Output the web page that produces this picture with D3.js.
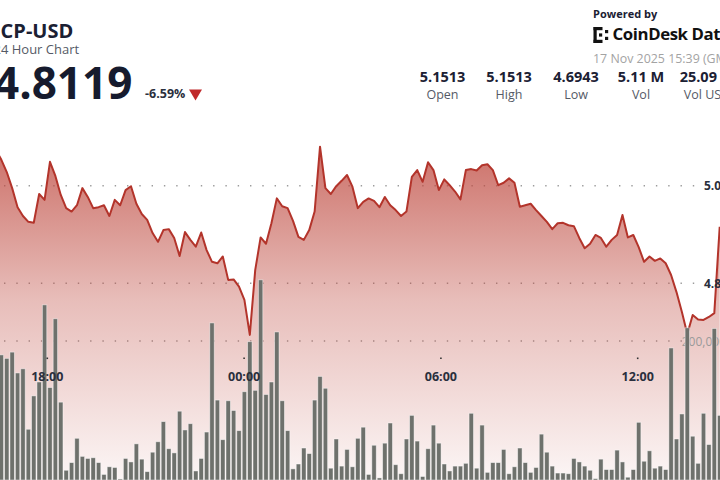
<!DOCTYPE html>
<html><head><meta charset="utf-8">
<script src="https://cdn.jsdelivr.net/npm/d3@7"></script>
<style>
body{margin:0;background:#fff;overflow:hidden}
svg{display:block;font-family:"Open Sans",sans-serif}
</style>
</head><body>
<svg id="c" width="720" height="480"></svg>
<script>
// ---- data ----
const prices = [
 5.073, 5.053, 5.028, 4.995, 4.956, 4.938, 4.926, 4.924, 4.983, 4.971, 5.049,
 5.020, 4.981, 4.954, 4.947, 4.960, 4.995, 4.977, 4.954, 4.956, 4.960,
 4.938, 4.971, 4.960, 4.991, 4.999, 4.963, 4.942, 4.930, 4.903, 4.885,
 4.909, 4.911, 4.893, 4.856, 4.905, 4.889, 4.875, 4.904, 4.868, 4.844,
 4.841, 4.855, 4.807, 4.808, 4.793, 4.766, 4.6943, 4.827, 4.894, 4.881,
 4.923, 4.974, 4.958, 4.954, 4.928, 4.895, 4.889, 4.909, 4.947, 5.080,
 4.995, 4.983, 4.999, 5.010, 5.022, 4.998, 4.954, 4.967, 4.974, 4.969,
 4.956, 4.977, 4.960, 4.950, 4.938, 4.947, 5.018, 5.032, 5.008, 5.048,
 5.032, 4.991, 5.013, 5.001, 4.988, 4.972, 5.032, 5.034, 5.031, 5.042,
 5.044, 5.032, 5.001, 5.006, 5.015, 5.006, 4.957, 4.960, 4.963, 4.950,
 4.938, 4.926, 4.911, 4.923, 4.924, 4.919, 4.917, 4.893, 4.872, 4.881,
 4.899, 4.893, 4.875, 4.889, 4.899, 4.940, 4.894, 4.899, 4.874, 4.844,
 4.855, 4.846, 4.851, 4.841, 4.817, 4.782, 4.741, 4.696, 4.735, 4.726,
 4.725, 4.731, 4.739, 4.916
];
const volumes = [
 150000,
 180000, 175000, 184000, 154000, 160000, 73000, 121000, 141000, 252000, 133000,
 232000, 112000, 14000, 25000, 60000, 34000, 31000, 32000, 25000, 8000,
 19000, 18000, 1500, 31000, 26000, 52000, 30000, 12000, 40000, 55000,
 84000, 45000, 39000, 99000, 72000, 81000, 13000, 31000, 69000, 226000,
 115000, 58000, 114000, 100000, 71000, 127000, 199000, 129000, 288000, 123000,
 141000, 213000, 114000, 71000, 16000, 23000, 46000, 38000, 115000, 149000,
 132000, 17000, 59000, 20000, 44000, 19000, 60000, 76000, 8000, 50000,
 3000, 53000, 82000, 22000, 9000, 59000, 93000, 56000, 5000, 45000,
 79000, 53000, 23000, 13000, 20000, 20000, 24000, 96000, 17000, 79000,
 11000, 25000, 25000, 44000, 9000, 19000, 46000, 25000, 11000, 18000,
 66000, 40000, 20000, 10000, 10000, 9000, 31000, 26000, 20000, 14000,
 2000, 30000, 15000, 15000, 43000, 26000, 4000, 15000, 83000, 27000,
 42000, 17000, 20000, 15000, 190000, 59000, 95000, 219000, 63000, 24000,
 96000, 51000, 218000, 93000
];
const xTickLabels = ["18:00", "00:00", "06:00", "12:00"];
const priceTicks = [5.0, 4.8];
const priceTickLabels = ["5.00", "4.80"];
const volumeTicks = [200000];
const volumeTickLabels = ["200,000"];
const statValues = ["5.1513", "5.1513", "4.6943", "5.11 M", "25.09 M"];
const statLabels = ["Open", "High", "Low", "Vol", "Vol USD"];

// ---- scales ----
const START = Date.UTC(2025, 10, 16, 16, 27);
const STEP = 9.88 * 60000;
const times = prices.map((_, i) => new Date(START + i * STEP));

const x = d3.scaleUtc()
  .domain([new Date(Date.UTC(2025, 10, 16, 18)), new Date(Date.UTC(2025, 10, 17, 12))])
  .range([46.8, 637.2]);
const y = d3.scaleLinear().domain([4.8, 5.0]).range([283.3, 185.7]);
const yv = d3.scaleLinear().domain([0, 200000]).range([480, 341]);

const svg = d3.select("#c");

// gradient
const defs = svg.append("defs");
const grad = defs.append("linearGradient").attr("id", "fillG")
  .attr("gradientUnits", "userSpaceOnUse").attr("x1", 0).attr("y1", 140).attr("x2", 0).attr("y2", 480);
grad.append("stop").attr("offset", 0).attr("stop-color", "rgb(190,72,62)").attr("stop-opacity", 0.8);
grad.append("stop").attr("offset", 0.47).attr("stop-color", "rgb(190,72,62)").attr("stop-opacity", 0.36);
grad.append("stop").attr("offset", 1).attr("stop-color", "rgb(190,72,62)").attr("stop-opacity", 0.05);

// grid lines
svg.append("g").selectAll("line").data(priceTicks).join("line")
  .attr("x1", 4).attr("x2", 700).attr("y1", d => y(d)).attr("y2", d => y(d))
  .attr("stroke", "#9c9c9c").attr("stroke-width", 1.4).attr("stroke-dasharray", "1.4 10.9");
svg.append("g").selectAll("line").data(volumeTicks).join("line")
  .attr("x1", 4).attr("x2", 682).attr("y1", d => yv(d)).attr("y2", d => yv(d))
  .attr("stroke", "#9c9c9c").attr("stroke-width", 1.4).attr("stroke-dasharray", "1.4 10.9");

// area + line
const area = d3.area().x((d, i) => x(times[i])).y0(480).y1(d => y(d));
svg.append("path").datum(prices).attr("d", area).attr("fill", "url(#fillG)");
const line = d3.line().x((d, i) => x(times[i])).y(d => y(d));
svg.append("path").datum(prices).attr("d", line).attr("fill", "none")
  .attr("stroke", "#b3342b").attr("stroke-width", 2).attr("stroke-linejoin", "round");

// volume axis label (behind bars)
svg.append("g").selectAll("text").data(volumeTicks).join("text")
  .attr("x", 726).attr("y", d => yv(d) + 4.5).attr("text-anchor", "end")
  .attr("font-size", 12).attr("fill", "#9a9a9a")
  .text((d, i) => volumeTickLabels[i]);

// bars
svg.append("g").selectAll("rect").data(volumes).join("rect")
  .attr("x", (d, i) => x(times[i]) - 2.2).attr("width", 4.4)
  .attr("y", d => yv(d)).attr("height", d => 480 - yv(d))
  .attr("fill", "#6e716c").attr("stroke", "rgba(255,255,255,0.55)").attr("stroke-width", 0.8);

// x axis
const xAxis = d3.axisBottom(x)
  .tickValues(x.ticks(d3.utcHour.every(6)))
  .tickFormat((d, i) => xTickLabels[i])
  .tickSize(1.6).tickPadding(13.5);
const gx = svg.append("g").attr("transform", "translate(0,357.5)").call(xAxis);
gx.select(".domain").remove();
gx.selectAll(".tick line").attr("stroke", "#333").attr("stroke-width", 1.6);
gx.selectAll(".tick text").attr("font-family", "Open Sans").attr("font-size", 12.5)
  .attr("font-weight", 700).attr("fill", "#2a2f3d");

// price labels
svg.append("g").selectAll("text").data(priceTicks).join("text")
  .attr("x", 728).attr("y", d => y(d) + 4.5).attr("text-anchor", "end")
  .attr("font-size", 12).attr("font-weight", 700).attr("fill", "#2a2f3d")
  .text((d, i) => priceTickLabels[i]);

// ---- header ----
const hdr = svg.append("g");
hdr.append("text").attr("x", -6).attr("y", 38.3).attr("font-size", 20).attr("font-weight", 700)
  .attr("fill", "#1b2033").text("ICP-USD");
hdr.append("text").attr("x", -6.5).attr("y", 53.5).attr("font-size", 13).attr("fill", "#555a66")
  .text("24 Hour Chart");
hdr.append("text").attr("x", -6).attr("y", 98.5).attr("font-size", 44).attr("font-weight", 700)
  .attr("fill", "#161b2e").text("4.8119");
hdr.append("text").attr("x", 145).attr("y", 98.3).attr("font-size", 12.5).attr("font-weight", 700)
  .attr("fill", "#2a2f3d").text("-6.59%");
hdr.append("path").attr("d", "M189,89.5 L202,89.5 L195.5,100.5 Z").attr("fill", "#c0292b");

// stats
const statX = [442.5, 509, 576, 641, 707];
hdr.append("g").selectAll("text").data(statValues).join("text")
  .attr("x", (d, i) => statX[i]).attr("y", 81.5).attr("text-anchor", "middle")
  .attr("font-size", 14.5).attr("font-weight", 700).attr("fill", "#1b2033").text(d => d);
hdr.append("g").selectAll("text").data(statLabels).join("text")
  .attr("x", (d, i) => statX[i]).attr("y", 98.5).attr("text-anchor", "middle")
  .attr("font-size", 12.5).attr("fill", "#555a66").text(d => d);

// powered by
hdr.append("text").attr("x", 593).attr("y", 18).attr("font-size", 11).attr("font-weight", 700)
  .attr("fill", "#1b2033").text("Powered by");
const logo = hdr.append("g").attr("fill", "#111");
logo.append("rect").attr("x", 593.5).attr("y", 27).attr("width", 3.2).attr("height", 16);
logo.append("rect").attr("x", 593.5).attr("y", 27).attr("width", 9).attr("height", 3.2);
logo.append("rect").attr("x", 593.5).attr("y", 39.8).attr("width", 9).attr("height", 3.2);
logo.append("rect").attr("x", 599).attr("y", 33.4).attr("width", 3.2).attr("height", 3.2);
logo.append("rect").attr("x", 605).attr("y", 30).attr("width", 3.2).attr("height", 3.2);
logo.append("rect").attr("x", 605).attr("y", 36.8).attr("width", 3.2).attr("height", 3.2);
hdr.append("text").attr("x", 612.5).attr("y", 39.5).attr("font-size", 16.8).attr("font-weight", 700)
  .attr("fill", "#111").attr("letter-spacing", -0.4).text("CoinDesk Data");
hdr.append("text").attr("x", 593).attr("y", 63).attr("font-size", 12.4).attr("fill", "#a3a3a3")
  .text("17 Nov 2025 15:39 (GMT)");
</script>
</body></html>
